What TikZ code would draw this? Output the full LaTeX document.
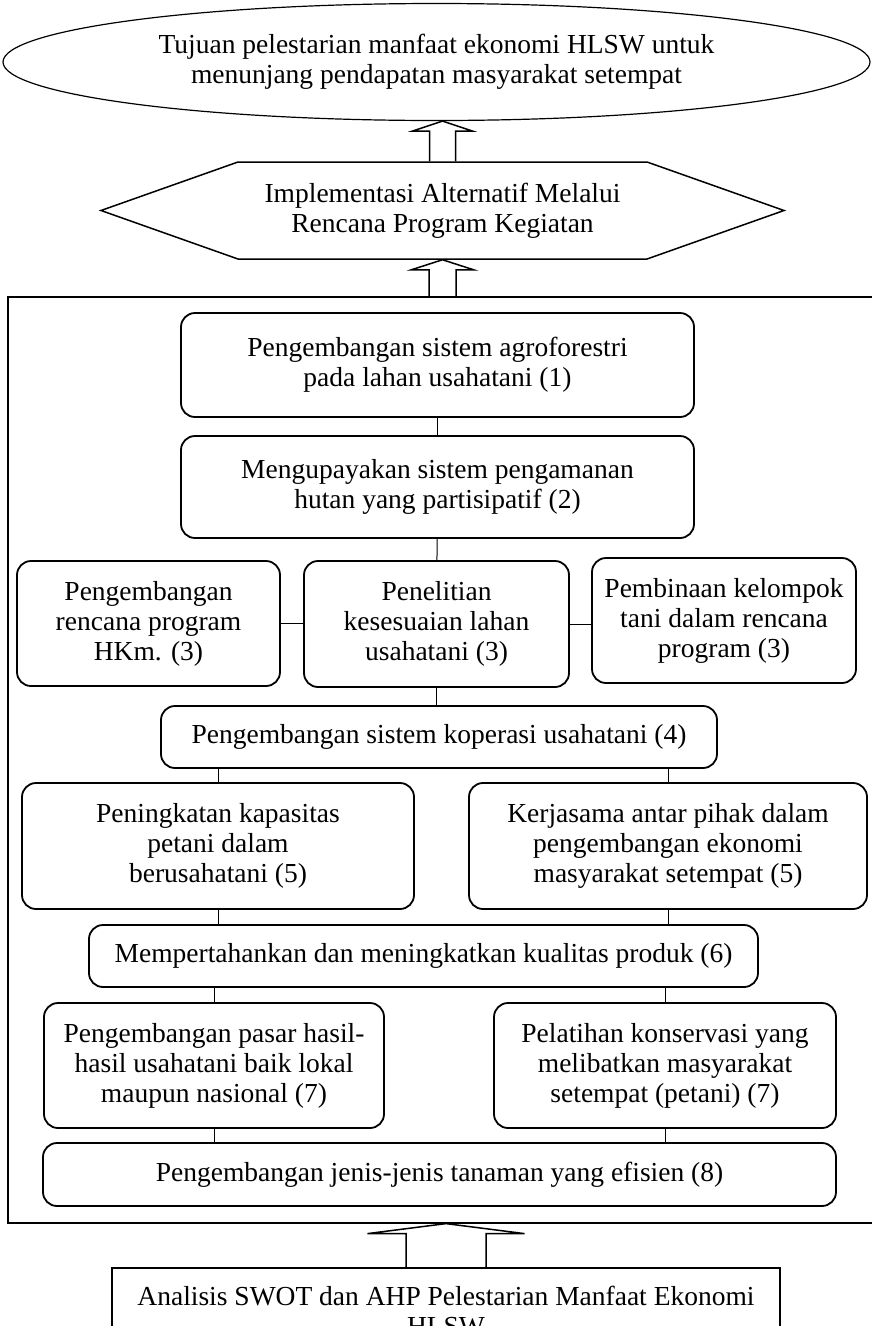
\documentclass[tikz,border=0pt]{standalone}
\usepackage{fontspec}
\setmainfont{Liberation Serif}
\usetikzlibrary{shapes.geometric,shapes.symbols,calc}

% panah blok berongga: alas, ujung, setengah lebar batang, setengah lebar kepala
\newcommand{\panahblok}[4]{%
  \draw[panah] ($(#1)+(-#3,0)$) -- ($(#2)+(-#3,10)$) -- ($(#2)+(-#4,10)$)
    -- (#2) -- ($(#2)+(#4,10)$) -- ($(#2)+(#3,10)$) -- ($(#1)+(#3,0)$);}

\begin{document}
\begin{tikzpicture}[
            x=1pt, y=-1pt,
            teks/.style={
                align=center,
                font=\fontsize{27.5}{30}\selectfont,
                inner sep=0pt
            },
            kotak/.style={
                teks,
                rectangle,
                rounded corners=14pt,
                draw=black,
                line width=1.8pt
            },
            garis/.style={line width=1pt},
            panah/.style={line width=1.5pt, line join=miter}
        ]

        \useasboundingbox (0,0) rectangle (872,1326);

        % Tujuan dan implementasi
        \node[teks, ellipse, draw, line width=1.2pt, minimum width=867, minimum height=117] (tujuan) at (436.5,62)
            {Tujuan pelestarian manfaat ekonomi HLSW untuk\\menunjang pendapatan masyarakat setempat};
        \node[teks, signal, signal to=west and east, signal pointer angle=39, draw, line width=1.5pt,
              minimum width=683, minimum height=97] (impl) at (442.5,210.5)
            {Implementasi Alternatif Melalui\\Rencana Program Kegiatan};

        % Bingkai program
        \node[draw, line width=1.2pt, minimum width=892, minimum height=926, inner sep=0pt] (bingkai) at (454,760) {};

        % Kotak program
        \node[kotak, minimum width=513, minimum height=104] (agro) at (437.5,365)
            {Pengembangan sistem agroforestri\\pada lahan usahatani (1)};
        \node[kotak, minimum width=513, minimum height=102] (aman) at (437.5,487)
            {Mengupayakan sistem pengamanan\\hutan yang partisipatif (2)};
        \node[kotak, minimum width=263, minimum height=125] (hkm) at (148.5,623.5)
            {Pengembangan\\rencana program\\HKm. (3)};
        \node[kotak, minimum width=265, minimum height=126] (lahan) at (436.5,624)
            {Penelitian\\kesesuaian lahan\\usahatani (3)};
        \node[kotak, minimum width=264, minimum height=125] (tani) at (724,620.5)
            {Pembinaan kelompok\\tani dalam rencana\\program (3)};
        \node[kotak, minimum width=556, minimum height=62] (koperasi) at (439,737)
            {Pengembangan sistem koperasi usahatani (4)};
        \node[kotak, minimum width=392, minimum height=126] (kapasitas) at (218,846)
            {Peningkatan kapasitas\\petani dalam\\berusahatani (5)};
        \node[kotak, minimum width=398, minimum height=126] (kerjasama) at (668,846)
            {Kerjasama antar pihak dalam\\pengembangan ekonomi\\masyarakat setempat (5)};
        \node[kotak, minimum width=669, minimum height=62] (produk) at (423.5,956)
            {Mempertahankan dan meningkatkan kualitas produk (6)};
        \node[kotak, minimum width=340, minimum height=125] (pasar) at (214,1065.5)
            {Pengembangan pasar hasil-\\hasil usahatani baik lokal\\maupun nasional (7)};
        \node[kotak, minimum width=342, minimum height=125] (konservasi) at (665,1065.5)
            {Pelatihan konservasi yang\\melibatkan masyarakat\\setempat (petani) (7)};
        \node[kotak, minimum width=793, minimum height=63] (tanaman) at (439.5,1174.5)
            {Pengembangan jenis-jenis tanaman yang efisien (8)};

        % Analisis
        \node[teks, draw, line width=1.2pt, minimum width=668, minimum height=86] (analisis) at (446,1311)
            {Analisis SWOT dan AHP Pelestarian Manfaat Ekonomi\\HLSW};

        % Garis penghubung
        \draw[garis] (agro) -- (aman);
        \draw[garis] (aman) -- (lahan);
        \draw[garis] (hkm.east) -- (hkm.east -| lahan.west);
        \draw[garis] (lahan.east) -- (lahan.east -| tani.west);
        \draw[garis] (lahan.south) -- (lahan.south |- koperasi.north);
        \draw[garis] (kapasitas.north) -- (kapasitas.north |- koperasi.south);
        \draw[garis] (kerjasama.north) -- (kerjasama.north |- koperasi.south);
        \draw[garis] (kapasitas.south) -- (kapasitas.south |- produk.north);
        \draw[garis] (kerjasama.south) -- (kerjasama.south |- produk.north);
        \draw[garis] (pasar.north) -- (pasar.north |- produk.south);
        \draw[garis] (konservasi.north) -- (konservasi.north |- produk.south);
        \draw[garis] (pasar.south) -- (pasar.south |- tanaman.north);
        \draw[garis] (konservasi.south) -- (konservasi.south |- tanaman.north);

        % Panah blok
        \coordinate (p1a) at (impl.north);
        \coordinate (p1b) at (impl.north |- tujuan.south);
        \coordinate (p2a) at (impl.south |- bingkai.north);
        \coordinate (p2b) at (impl.south);
        \coordinate (p3a) at (analisis.north);
        \coordinate (p3b) at (analisis.north |- bingkai.south);
        \panahblok{p1a}{p1b}{13}{30}
        \panahblok{p2a}{p2b}{13.5}{31}
        \panahblok{p3a}{p3b}{40}{78.5}

\end{tikzpicture}
\end{document}
